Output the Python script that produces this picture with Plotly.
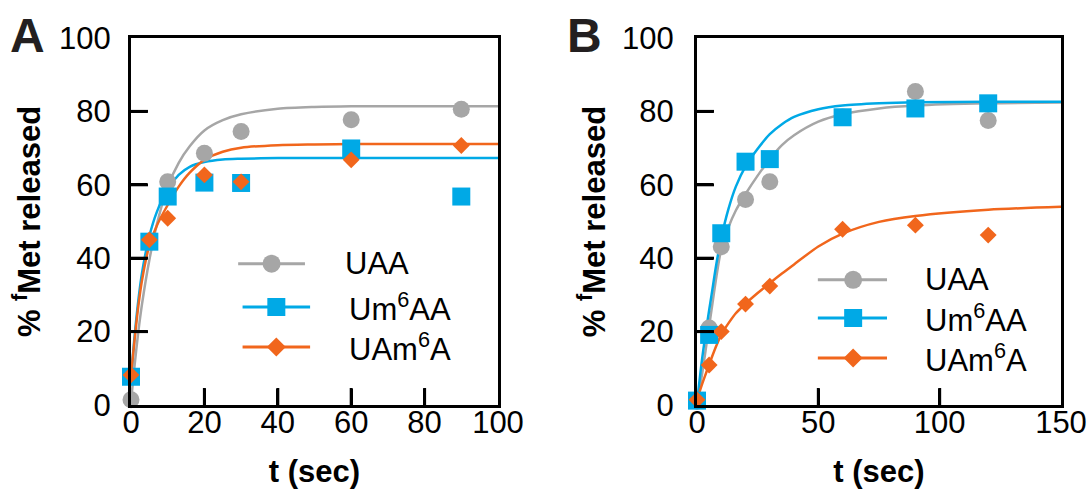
import plotly.graph_objects as go

# ---------------- data ----------------
series_names = ["UAA", "Um<sup>6</sup>AA", "UAm<sup>6</sup>A"]

# Panel A: measured points
tA_uaa = [0, 10, 20, 30, 60, 90]
vA_uaa = [1.4, 60.8, 68.6, 74.5, 77.7, 80.6]
tA_um6aa = [0, 5, 10, 20, 30, 60, 90]
vA_um6aa = [7.7, 44.5, 56.8, 60.6, 60.5, 69.9, 56.8]
tA_uam6a = [0, 5, 10, 20, 30, 60, 90]
vA_uam6a = [8.2, 45.0, 50.9, 62.7, 60.8, 66.8, 70.7]

# Panel A: fitted curves
tA_fit = [0, 1, 2, 3, 5, 7, 10, 13, 16, 20, 25, 30, 40, 50, 60, 80, 100]
fA_uaa = [1, 11, 20, 27.5, 39.5, 49, 59.5, 66, 70.5, 74.8, 77.6, 79.2, 80.7, 81.2, 81.4, 81.4, 81.4]
fA_um6aa = [7.5, 19, 28.5, 36, 46, 52.5, 58.8, 62.7, 64.9, 66.2, 66.9, 67.1, 67.3, 67.3, 67.3, 67.3, 67.3]
fA_uam6a = [8, 18, 27, 34, 43.5, 48.8, 54.5, 59.5, 63.3, 66.8, 69, 70.1, 70.8, 71, 71.1, 71.1, 71.1]

# Panel B: measured points
tB_uaa = [0, 5, 10, 20, 30, 60, 90, 120]
vB_uaa = [1.0, 21.0, 43.1, 56.0, 60.8, 78.5, 85.4, 77.5]
tB_um6aa = [0, 5, 10, 20, 30, 60, 90, 120]
vB_um6aa = [1.2, 19.1, 46.8, 66.3, 67.0, 78.4, 80.8, 82.2]
tB_uam6a = [0, 5, 10, 20, 30, 60, 90, 120]
vB_uam6a = [1.4, 10.9, 20.0, 27.5, 32.4, 47.9, 49.0, 46.3]

# Panel B: fitted curves
tB_fit = [0, 2, 4, 6, 8, 10, 13, 16, 20, 25, 30, 35, 40, 50, 60, 75, 90, 120, 150]
fB_uaa = [0.5, 8, 17, 26, 35, 42.5, 48.5, 53, 57.5, 62.5, 67, 70.8, 73.5, 77.2, 79.2, 80.8, 81.6, 82.2, 82.4]
fB_um6aa = [0.5, 12, 21.5, 30, 38.5, 45.5, 53.5, 59.5, 65, 69.8, 73.8, 76.5, 78.5, 80.6, 81.6, 82.2, 82.5, 82.6, 82.6]
fB_uam6a = [1.4, 5.5, 9.2, 12.8, 16.2, 19.2, 22.3, 25, 27.6, 30.5, 33.2, 35.8, 38.3, 43.2, 46.7, 49.9, 51.5, 53.2, 54]

y_ticks = [0, 20, 40, 60, 80, 100]
xA_ticks = [0, 20, 40, 60, 80, 100]
xB_ticks = [0, 50, 100, 150]

# ---------------- style ----------------
W, H = 1092, 489
FONT = "Liberation Sans, Arial, Helvetica, sans-serif"
COLORS = ["#A6A6A6", "#00A9E6", "#F1661C"]
SYMBOLS = ["circle", "square", "diamond"]
SIZES = [17, 18, 13]
TICKLEN = 17  # px, inward tick length

A_px = (131, 498)
B_px = (697, 1061)
Y_px = (405, 38)
dom_A = [A_px[0] / W, A_px[1] / W]
dom_B = [B_px[0] / W, B_px[1] / W]
dom_y = [1 - Y_px[0] / H, 1 - Y_px[1] / H]

fig = go.Figure()

panels = [
    ("x", "y", tA_fit, [fA_uaa, fA_um6aa, fA_uam6a],
     [(tA_uaa, vA_uaa), (tA_um6aa, vA_um6aa), (tA_uam6a, vA_uam6a)],
     xA_ticks, A_px),
    ("x2", "y2", tB_fit, [fB_uaa, fB_um6aa, fB_uam6a],
     [(tB_uaa, vB_uaa), (tB_um6aa, vB_um6aa), (tB_uam6a, vB_uam6a)],
     xB_ticks, B_px),
]

for xa, ya, tfit, fits, pts, xt, xpx in panels:
    for i in range(3):
        fig.add_trace(go.Scatter(
            x=tfit, y=fits[i], mode="lines", xaxis=xa, yaxis=ya,
            line=dict(color=COLORS[i], width=2.5, shape="spline", smoothing=0.8),
            hoverinfo="skip", showlegend=False))
    for i in range(3):
        fig.add_trace(go.Scatter(
            x=pts[i][0], y=pts[i][1], mode="markers", xaxis=xa, yaxis=ya,
            name=series_names[i], cliponaxis=False,
            marker=dict(symbol=SYMBOLS[i], size=SIZES[i], color=COLORS[i],
                        line=dict(width=0)),
            showlegend=False))

    # inward tick marks at the tick values, length converted from pixels to axis units
    xmin, xmax = min(xt), max(xt)
    ymin, ymax = min(y_ticks), max(y_ticks)
    dx = TICKLEN * (xmax - xmin) / (xpx[1] - xpx[0])
    dy = TICKLEN * (ymax - ymin) / (Y_px[0] - Y_px[1])
    tx, ty = [], []
    for v in y_ticks:
        if v in (ymin, ymax):
            continue
        tx += [xmin, xmin + dx, None]
        ty += [v, v, None]
    for v in xt:
        if v in (xmin, xmax):
            continue
        tx += [v, v, None]
        ty += [ymin, ymin + dy, None]
    fig.add_trace(go.Scatter(
        x=tx, y=ty, mode="lines", xaxis=xa, yaxis=ya, connectgaps=False,
        line=dict(color="black", width=3), cliponaxis=False,
        hoverinfo="skip", showlegend=False))

# ---------------- hand-made legends (fractions of each plot area) ----------------
legend_specs = [
    ("x domain", "y domain",
     [(0.292, 0.383, 0.474, 0.578), (0.304, 0.396, 0.488, 0.588), (0.304, 0.396, 0.488, 0.588)],
     [0.385, 0.267, 0.158]),
    ("x2 domain", "y2 domain",
     [(0.332, 0.429, 0.522, 0.621), (0.332, 0.429, 0.522, 0.621), (0.332, 0.429, 0.522, 0.621)],
     [0.341, 0.237, 0.128]),
]
for xr, yr, xs, ys in legend_specs:
    for i in range(3):
        x0, xm, x1, xtxt = xs[i]
        c = COLORS[i]
        fig.add_shape(type="line", xref=xr, yref=yr, x0=x0, x1=x1, y0=ys[i], y1=ys[i],
                      line=dict(color=c, width=3))
        common = dict(xref=xr, yref=yr, xsizemode="pixel", ysizemode="pixel",
                      xanchor=xm, yanchor=ys[i], fillcolor=c, line=dict(width=0))
        if SYMBOLS[i] == "circle":
            fig.add_shape(type="circle", x0=-9, x1=9, y0=-9, y1=9, **common)
        elif SYMBOLS[i] == "square":
            fig.add_shape(type="rect", x0=-9, x1=9, y0=-9, y1=9, **common)
        else:
            fig.add_shape(type="path", path="M-9.5,0L0,9.5L9.5,0L0,-9.5Z", **common)
        fig.add_annotation(
            x=xtxt, y=ys[i], xref=xr, yref=yr, text=series_names[i], showarrow=False,
            xanchor="left", yanchor="middle",
            font=dict(family=FONT, size=31, color="black"))

# ---------------- axes ----------------
axis_common = dict(
    showline=True, linecolor="black", linewidth=3, mirror=True,
    ticks="inside", ticklen=16, tickwidth=3, tickcolor="black",
    showgrid=False, zeroline=False, automargin=False,
    tickfont=dict(family=FONT, size=31, color="black"),
)
title_font = dict(family=FONT, size=31, color="black", weight="bold")
ytitle = "% <sup>f</sup>Met released"

fig.update_layout(
    template="none",
    width=W, height=H, margin=dict(l=0, r=0, t=0, b=0, autoexpand=False),
    paper_bgcolor="white", plot_bgcolor="white", showlegend=False,
    xaxis=dict(domain=dom_A, range=[0, 100], tickvals=xA_ticks, anchor="y",
               ticklabelstandoff=-12,
               title=dict(text="t (sec)", font=title_font, standoff=34), **axis_common),
    yaxis=dict(domain=dom_y, range=[0, 100], tickvals=y_ticks, anchor="x",
               ticklabelstandoff=11,
               title=dict(text=ytitle, font=title_font, standoff=10), **axis_common),
    xaxis2=dict(domain=dom_B, range=[0, 150], tickvals=xB_ticks, anchor="y2",
                ticklabelstandoff=-12,
                title=dict(text="t (sec)", font=title_font, standoff=34), **axis_common),
    yaxis2=dict(domain=dom_y, range=[0, 100], tickvals=y_ticks, anchor="x2",
                ticklabelstandoff=14,
                title=dict(text=ytitle, font=title_font, standoff=8), **axis_common),
)

# panel letters
for letter, xc in [("A", 27.5), ("B", 584)]:
    fig.add_annotation(
        x=xc / W, y=1 - 35.5 / H, xref="paper", yref="paper", text=letter,
        showarrow=False, xanchor="center", yanchor="middle",
        font=dict(family=FONT, size=48, color="#231F20", weight="bold"))

fig.write_html("out.html")
